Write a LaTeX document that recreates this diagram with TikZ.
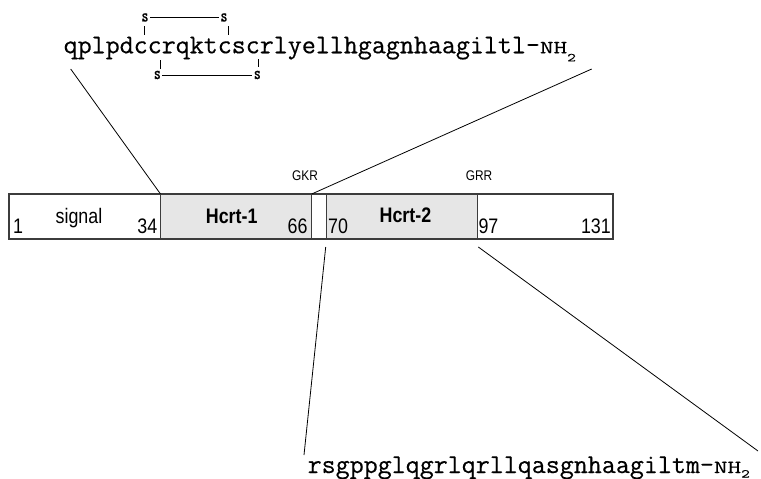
\documentclass[tikz,border=0pt]{standalone}
\usepackage{fontspec}
\usetikzlibrary{calc}
\newfontfamily\nsans[FakeStretch=0.85]{Liberation Sans}
\newfontfamily\mono[FakeBold=0.4]{lmmono12-regular.otf}
\newfontfamily\monowide[FakeStretch=1.4,FakeBold=0.3]{lmmono10-regular.otf}
\newfontfamily\monon[FakeStretch=0.7,FakeBold=0.3]{lmmono10-regular.otf}
\definecolor{segfill}{RGB}{230,230,230}
\definecolor{segline}{RGB}{60,60,60}
\newcommand{\nhtwo}[1]{{\monowide\fontsize{18.5}{20}\selectfont NH}\raisebox{#1}{\monowide\fontsize{12}{13}\selectfont 2}}
\begin{document}
\begin{tikzpicture}[x=1pt,y=-1pt,
  seg/.style={draw=segline, line width=1.1pt, minimum height=45pt, inner sep=0pt, outer sep=0pt},
  pep/.style={fill=segfill},
  lab/.style={inner sep=0pt, font=\nsans\fontsize{21}{24}\selectfont},
  blab/.style={inner sep=0pt, font=\nsans\bfseries\fontsize{21}{24}\selectfont},
  slab/.style={inner sep=0pt, font=\nsans\fontsize{14}{16}\selectfont},
  seqtxt/.style={inner sep=0pt, anchor=base west, font=\mono\fontsize{27.2}{32}\selectfont},
  sul/.style={inner sep=1.5pt, font=\monon\fontsize{19}{21}\selectfont},
  conn/.style={line width=0.8pt, black},
  bond/.style={line width=0.8pt, black}]
\useasboundingbox (0,0) rectangle (761,479);

% bar segments
\node[seg, minimum width=151.5pt] (sig) at (84.75,216.5) {};
\node[seg, pep, minimum width=151.2pt] (h1) at (236.1,216.5) {};
\node[seg, minimum width=15pt] (gap) at (319.2,216.5) {};
\node[seg, pep, minimum width=150.6pt] (h2) at (402,216.5) {};
\node[seg, minimum width=135.7pt] (tail) at (545.15,216.5) {};

% labels in bar
\node[lab, anchor=base west] (n1) at (13,233) {1};
\node[lab, anchor=base] (nsig) at (79,223) {signal};
\node[lab, anchor=base east] (n34) at (157.5,233) {34};
\node[blab, anchor=base] (nh1) at (231.7,223) {Hcrt-1};
\node[lab, anchor=base east] (n66) at (307.8,233) {66};
\node[lab, anchor=base west] (n70) at (328,233) {70};
\node[blab, anchor=base] (nh2) at (405.4,222) {Hcrt-2};
\node[lab, anchor=base west] (n97) at (478.3,233) {97};
\node[lab, anchor=base east] (n131) at (611,233) {131};
\node[slab, anchor=base] (gkr) at (305,180) {GKR};
\node[slab, anchor=base] (grr) at (479,180) {GRR};

% sequences
\node[seqtxt] (seq1) at (63.5,53.3) {qplpdccrqktcscrlyellhgagnhaagiltl-\nhtwo{-8pt}};
\node[seqtxt] (seq2) at (307.5,473) {rsgppglqgrlqrllqasgnhaagiltm-\nhtwo{-4.5pt}};

% disulfide bridges
\node[sul] (sTL) at (145,17.5) {s};
\node[sul] (sTR) at (224,17.5) {s};
\node[sul] (sBL) at (157.3,75) {s};
\node[sul] (sBR) at (257.3,75) {s};
\draw[bond] (sTL.east) -- (sTR.west);
\draw[bond] (sBL.east) -- (sBR.west);
\coordinate (tTLa) at (144,26); \coordinate (tTLb) at (144,35);
\coordinate (tTRa) at (228,26); \coordinate (tTRb) at (228,35);
\coordinate (tBLa) at (160,60); \coordinate (tBLb) at (160,68.5);
\coordinate (tBRa) at (258.3,59.3); \coordinate (tBRb) at (258.3,67);
\draw[bond] (tTLa) -- (tTLb);
\draw[bond] (tTRa) -- (tTRb);
\draw[bond] (tBLa) -- (tBLb);
\draw[bond] (tBRa) -- (tBRb);

% connectors
\coordinate (topL) at (70.7,69);
\coordinate (topR) at (591.7,69);
\coordinate (botLs) at (325.7,247);
\coordinate (botLe) at (304,455);
\coordinate (botRs) at (478.3,247);
\coordinate (botRe) at (758,451);
\draw[conn] (topL) -- (h1.north west);
\draw[conn] (topR) -- (h1.north east);
\draw[conn] (botLs) -- (botLe);
\draw[conn] (botRs) -- (botRe);
\end{tikzpicture}
\end{document}
